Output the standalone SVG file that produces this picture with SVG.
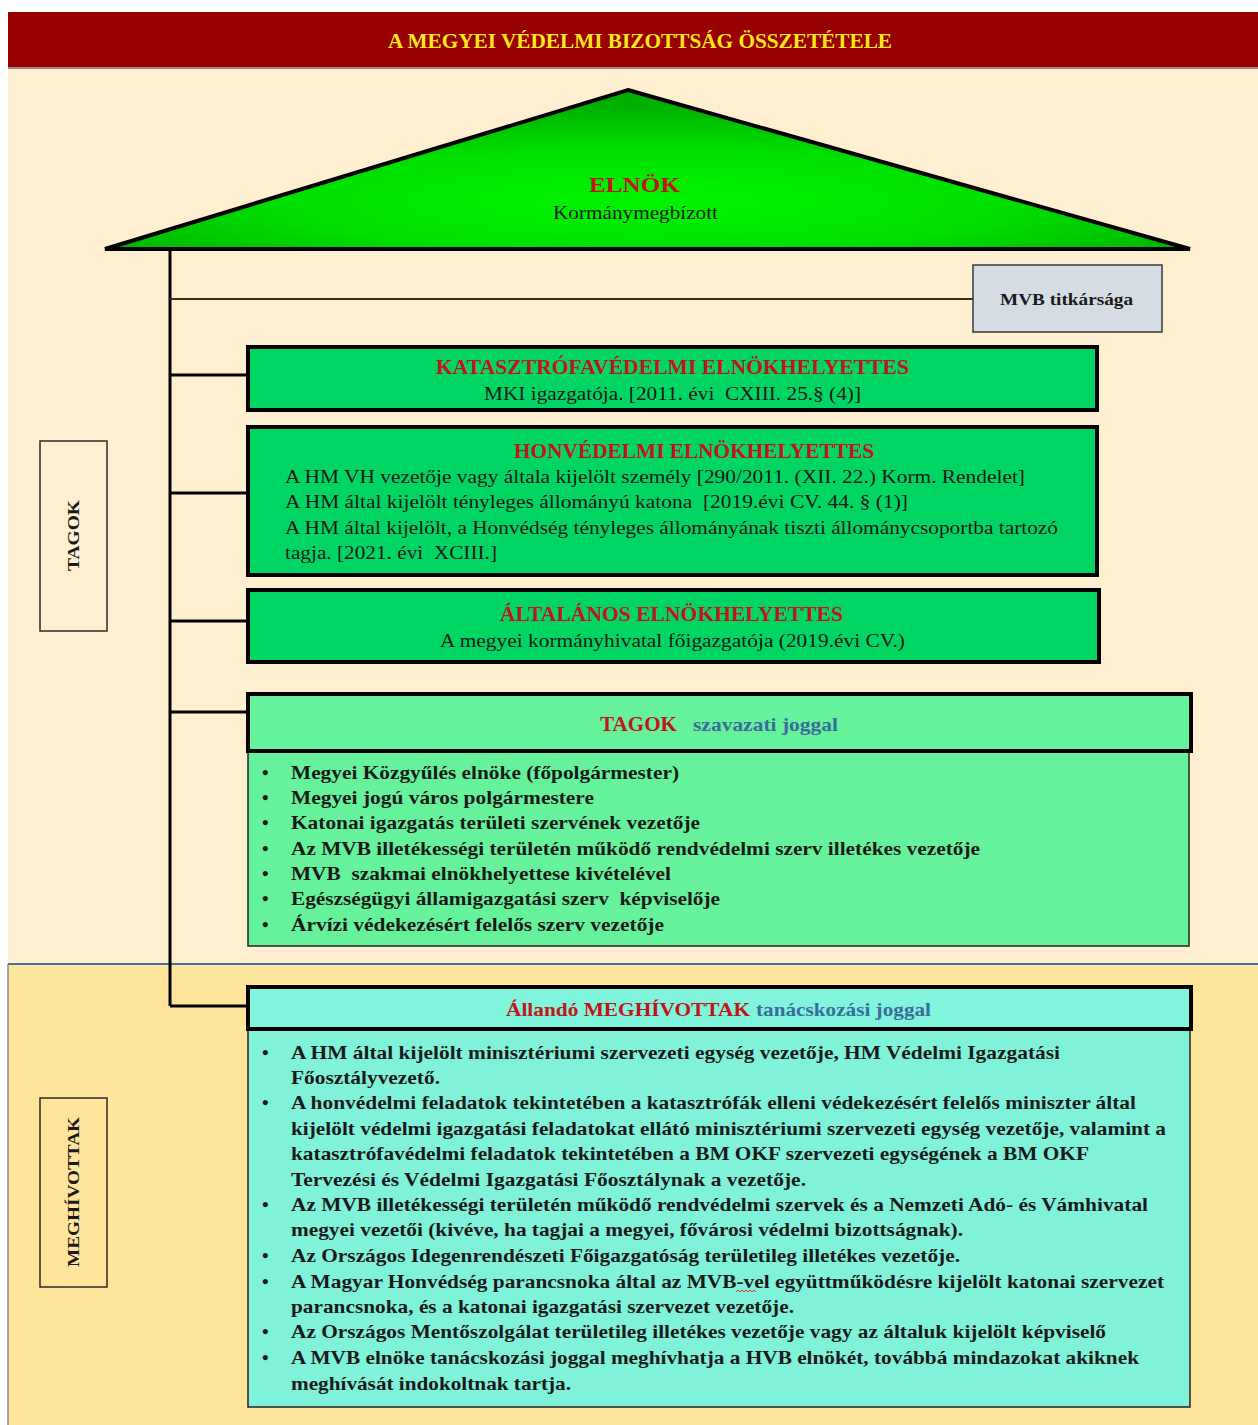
<svg xmlns="http://www.w3.org/2000/svg" width="1258" height="1425" viewBox="0 0 1258 1425">
  <defs>
    <radialGradient id="roofFill" cx="0.5" cy="0.7" r="0.6">
      <stop offset="0" stop-color="#00F400"/>
      <stop offset="0.55" stop-color="#00E000"/>
      <stop offset="1" stop-color="#00B000"/>
    </radialGradient>
    <style>
      text { font-family: "Liberation Serif", "Times New Roman", serif; white-space: pre; }
      .title { font-size: 20px; font-weight: bold; fill: #FFE81A; }
      .red { fill: #C0161A; font-weight: bold; }
      .blue { fill: #3A6C9C; font-weight: bold; }
      .head { font-size: 20px; }
      .sub { font-size: 19px; fill: #1A1A1A; }
      .item { font-size: 19px; font-weight: bold; fill: #1A1A1A; }
      .side { font-size: 16px; font-weight: bold; fill: #1A1A1A; }
      .deputy { fill: #00D462; stroke: #000; stroke-width: 4; }
      .members-head { fill: #66F29A; stroke: #000; stroke-width: 4; }
      .members-body { fill: #66F29A; stroke: #222; stroke-width: 1.5; }
      .guests-head { fill: #80F4DC; stroke: #000; stroke-width: 4; }
      .guests-body { fill: #80F2DA; stroke: #222; stroke-width: 1.5; }
      .label-box { fill: none; stroke: #2A2A2A; stroke-width: 1.5; }
      .link { stroke: #000; stroke-width: 3; fill: none; }
    </style>
  </defs>

  <!-- page background -->
  <rect x="0" y="0" width="1258" height="1425" fill="#FFFFFF"/>
  <rect x="8" y="68" width="1250" height="896" fill="#FEEFD0"/>
  <rect x="8" y="964" width="1250" height="461" fill="#FFE49C"/>
  <line x1="8" y1="964" x2="1258" y2="964" stroke="#4A70A0" stroke-width="2"/>
  <line x1="8" y1="964" x2="8" y2="1425" stroke="#8A8A8A" stroke-width="1.5"/>

  <!-- title bar -->
  <g id="title">
    <rect x="8" y="12" width="1250" height="56" fill="#990000"/>
    <rect x="8" y="67" width="1250" height="2" fill="#9A8A80"/>
    <text class="title" x="388" y="48" textLength="504" lengthAdjust="spacingAndGlyphs">A MEGYEI VÉDELMI BIZOTTSÁG ÖSSZETÉTELE</text>
  </g>

  <!-- connectors -->
  <g id="connectors">
    <line x1="170" y1="249" x2="170" y2="1006" class="link"/>
    <line x1="170" y1="299" x2="973" y2="299" stroke="#3A3020" stroke-width="2"/>
    <line x1="170" y1="375" x2="248" y2="375" class="link"/>
    <line x1="170" y1="493" x2="248" y2="493" class="link"/>
    <line x1="170" y1="621" x2="248" y2="621" class="link"/>
    <line x1="170" y1="712" x2="248" y2="712" class="link"/>
    <line x1="170" y1="1006" x2="248" y2="1006" class="link"/>
  </g>

  <!-- chairman -->
  <g id="elnok">
    <polygon points="628,90 1190,249 105,249" fill="url(#roofFill)" stroke="#000" stroke-width="4" stroke-linejoin="miter"/>
    <text class="red" x="589" y="192" font-size="22" textLength="91" lengthAdjust="spacingAndGlyphs">ELNÖK</text>
    <text class="sub" x="553" y="219" font-size="18" textLength="165" lengthAdjust="spacingAndGlyphs">Kormánymegbízott</text>
  </g>

  <!-- secretariat -->
  <g id="titkarsag">
    <rect x="973" y="265" width="189" height="67" fill="#D5DCE4" stroke="#3A3A3A" stroke-width="1.5"/>
    <text x="1000" y="305" font-size="16" font-weight="bold" fill="#1A1A1A" textLength="133" lengthAdjust="spacingAndGlyphs">MVB titkársága</text>
  </g>

  <!-- deputy: disaster management -->
  <g id="katasztrofavedelmi">
    <rect x="248" y="347" width="849" height="63" class="deputy"/>
    <text class="red head" x="436" y="374" textLength="473" lengthAdjust="spacingAndGlyphs">KATASZTRÓFAVÉDELMI ELNÖKHELYETTES</text>
    <text class="sub" x="484" y="400" textLength="377" lengthAdjust="spacingAndGlyphs">MKI igazgatója. [2011. évi  CXIII. 25.§ (4)]</text>
  </g>

  <!-- deputy: defence -->
  <g id="honvedelmi">
    <rect x="248" y="427" width="849" height="148" class="deputy"/>
    <text class="red head" x="514" y="458" textLength="360" lengthAdjust="spacingAndGlyphs">HONVÉDELMI ELNÖKHELYETTES</text>
    <text class="sub" x="285" y="483" textLength="740" lengthAdjust="spacingAndGlyphs">A HM VH vezetője vagy általa kijelölt személy [290/2011. (XII. 22.) Korm. Rendelet]</text>
    <text class="sub" x="285" y="508" textLength="623" lengthAdjust="spacingAndGlyphs">A HM által kijelölt tényleges állományú katona  [2019.évi CV. 44. § (1)]</text>
    <text class="sub" x="285" y="534" textLength="773" lengthAdjust="spacingAndGlyphs">A HM által kijelölt, a Honvédség tényleges állományának tiszti állománycsoportba tartozó</text>
    <text class="sub" x="285" y="559" textLength="212" lengthAdjust="spacingAndGlyphs">tagja. [2021. évi  XCIII.]</text>
  </g>

  <!-- deputy: general -->
  <g id="altalanos">
    <rect x="248" y="590" width="851" height="72" class="deputy"/>
    <text class="red head" x="500" y="621" textLength="343" lengthAdjust="spacingAndGlyphs">ÁLTALÁNOS ELNÖKHELYETTES</text>
    <text class="sub" x="440" y="647" textLength="465" lengthAdjust="spacingAndGlyphs">A megyei kormányhivatal főigazgatója (2019.évi CV.)</text>
  </g>

  <!-- voting members -->
  <g id="tagok">
    <rect x="248" y="751" width="941" height="195" class="members-body"/>
    <rect x="248" y="694" width="943" height="57" class="members-head"/>
    <text class="red head" x="600" y="731" textLength="77" lengthAdjust="spacingAndGlyphs">TAGOK</text>
    <text class="blue" x="693" y="731" font-size="19" textLength="145" lengthAdjust="spacingAndGlyphs">szavazati joggal</text>
    <g class="item">
      <text x="262" y="779">•</text><text x="291" y="779" textLength="388" lengthAdjust="spacingAndGlyphs">Megyei Közgyűlés elnöke (főpolgármester)</text>
      <text x="262" y="804">•</text><text x="291" y="804" textLength="303" lengthAdjust="spacingAndGlyphs">Megyei jogú város polgármestere</text>
      <text x="262" y="829">•</text><text x="291" y="829" textLength="409" lengthAdjust="spacingAndGlyphs">Katonai igazgatás területi szervének vezetője</text>
      <text x="262" y="855">•</text><text x="291" y="855" textLength="689" lengthAdjust="spacingAndGlyphs">Az MVB illetékességi területén működő rendvédelmi szerv illetékes vezetője</text>
      <text x="262" y="880">•</text><text x="291" y="880" textLength="380" lengthAdjust="spacingAndGlyphs">MVB  szakmai elnökhelyettese kivételével</text>
      <text x="262" y="905">•</text><text x="291" y="905" textLength="429" lengthAdjust="spacingAndGlyphs">Egészségügyi államigazgatási szerv  képviselője</text>
      <text x="262" y="931">•</text><text x="291" y="931" textLength="373" lengthAdjust="spacingAndGlyphs">Árvízi védekezésért felelős szerv vezetője</text>
    </g>
  </g>

  <!-- side label: members -->
  <g id="tagok-cimke">
    <rect x="40" y="441" width="67" height="190" class="label-box"/>
    <text class="side" transform="translate(79,571) rotate(-90)" textLength="71" lengthAdjust="spacingAndGlyphs">TAGOK</text>
  </g>

  <!-- permanent invitees -->
  <g id="meghivottak">
    <rect x="248" y="1029" width="942" height="378" class="guests-body"/>
    <rect x="248" y="987" width="943" height="42" class="guests-head"/>
    <text class="red" x="506" y="1016" font-size="19" textLength="244" lengthAdjust="spacingAndGlyphs">Állandó MEGHÍVOTTAK</text>
    <text class="blue" x="756" y="1016" font-size="19" textLength="175" lengthAdjust="spacingAndGlyphs">tanácskozási joggal</text>
    <g class="item">
      <text x="262" y="1059">•</text><text x="291" y="1059" textLength="769" lengthAdjust="spacingAndGlyphs">A HM által kijelölt minisztériumi szervezeti egység vezetője, HM Védelmi Igazgatási</text>
      <text x="291" y="1084" textLength="149" lengthAdjust="spacingAndGlyphs">Főosztályvezető.</text>
      <text x="262" y="1109">•</text><text x="291" y="1109" textLength="845" lengthAdjust="spacingAndGlyphs">A honvédelmi feladatok tekintetében a katasztrófák elleni védekezésért felelős miniszter által</text>
      <text x="291" y="1135" textLength="875" lengthAdjust="spacingAndGlyphs">kijelölt védelmi igazgatási feladatokat ellátó minisztériumi szervezeti egység vezetője, valamint a</text>
      <text x="291" y="1160" textLength="798" lengthAdjust="spacingAndGlyphs">katasztrófavédelmi feladatok tekintetében a BM OKF szervezeti egységének a BM OKF</text>
      <text x="291" y="1186" textLength="515" lengthAdjust="spacingAndGlyphs">Tervezési és Védelmi Igazgatási Főosztálynak a vezetője.</text>
      <text x="262" y="1211">•</text><text x="291" y="1211" textLength="857" lengthAdjust="spacingAndGlyphs">Az MVB illetékességi területén működő rendvédelmi szervek és a Nemzeti Adó- és Vámhivatal</text>
      <text x="291" y="1236" textLength="672" lengthAdjust="spacingAndGlyphs">megyei vezetői (kivéve, ha tagjai a megyei, fővárosi védelmi bizottságnak).</text>
      <text x="262" y="1262">•</text><text x="291" y="1262" textLength="669" lengthAdjust="spacingAndGlyphs">Az Országos Idegenrendészeti Főigazgatóság területileg illetékes vezetője.</text>
      <text x="262" y="1288">•</text><text x="291" y="1288" textLength="873" lengthAdjust="spacingAndGlyphs">A Magyar Honvédség parancsnoka által az MVB-vel együttműködésre kijelölt katonai szervezet</text>
      <text x="291" y="1313" textLength="503" lengthAdjust="spacingAndGlyphs">parancsnoka, és a katonai igazgatási szervezet vezetője.</text>
      <text x="262" y="1338">•</text><text x="291" y="1338" textLength="815" lengthAdjust="spacingAndGlyphs">Az Országos Mentőszolgálat területileg illetékes vezetője vagy az általuk kijelölt képviselő</text>
      <text x="262" y="1364">•</text><text x="291" y="1364" textLength="848" lengthAdjust="spacingAndGlyphs">A MVB elnöke tanácskozási joggal meghívhatja a HVB elnökét, továbbá mindazokat akiknek</text>
      <text x="291" y="1390" textLength="280" lengthAdjust="spacingAndGlyphs">meghívását indokoltnak tartja.</text>
    </g>
    <!-- spell-check squiggle under "vel" -->
    <path d="M736,1292 l2,-2 l2,2 l2,-2 l2,2 l2,-2 l2,2 l2,-2 l2,2 l2,-2 l2,2" fill="none" stroke="#E03030" stroke-width="1"/>
  </g>

  <!-- side label: invitees -->
  <g id="meghivottak-cimke">
    <rect x="40" y="1098" width="67" height="189" class="label-box"/>
    <text class="side" transform="translate(79,1267) rotate(-90)" textLength="150" lengthAdjust="spacingAndGlyphs">MEGHÍVOTTAK</text>
  </g>
</svg>
